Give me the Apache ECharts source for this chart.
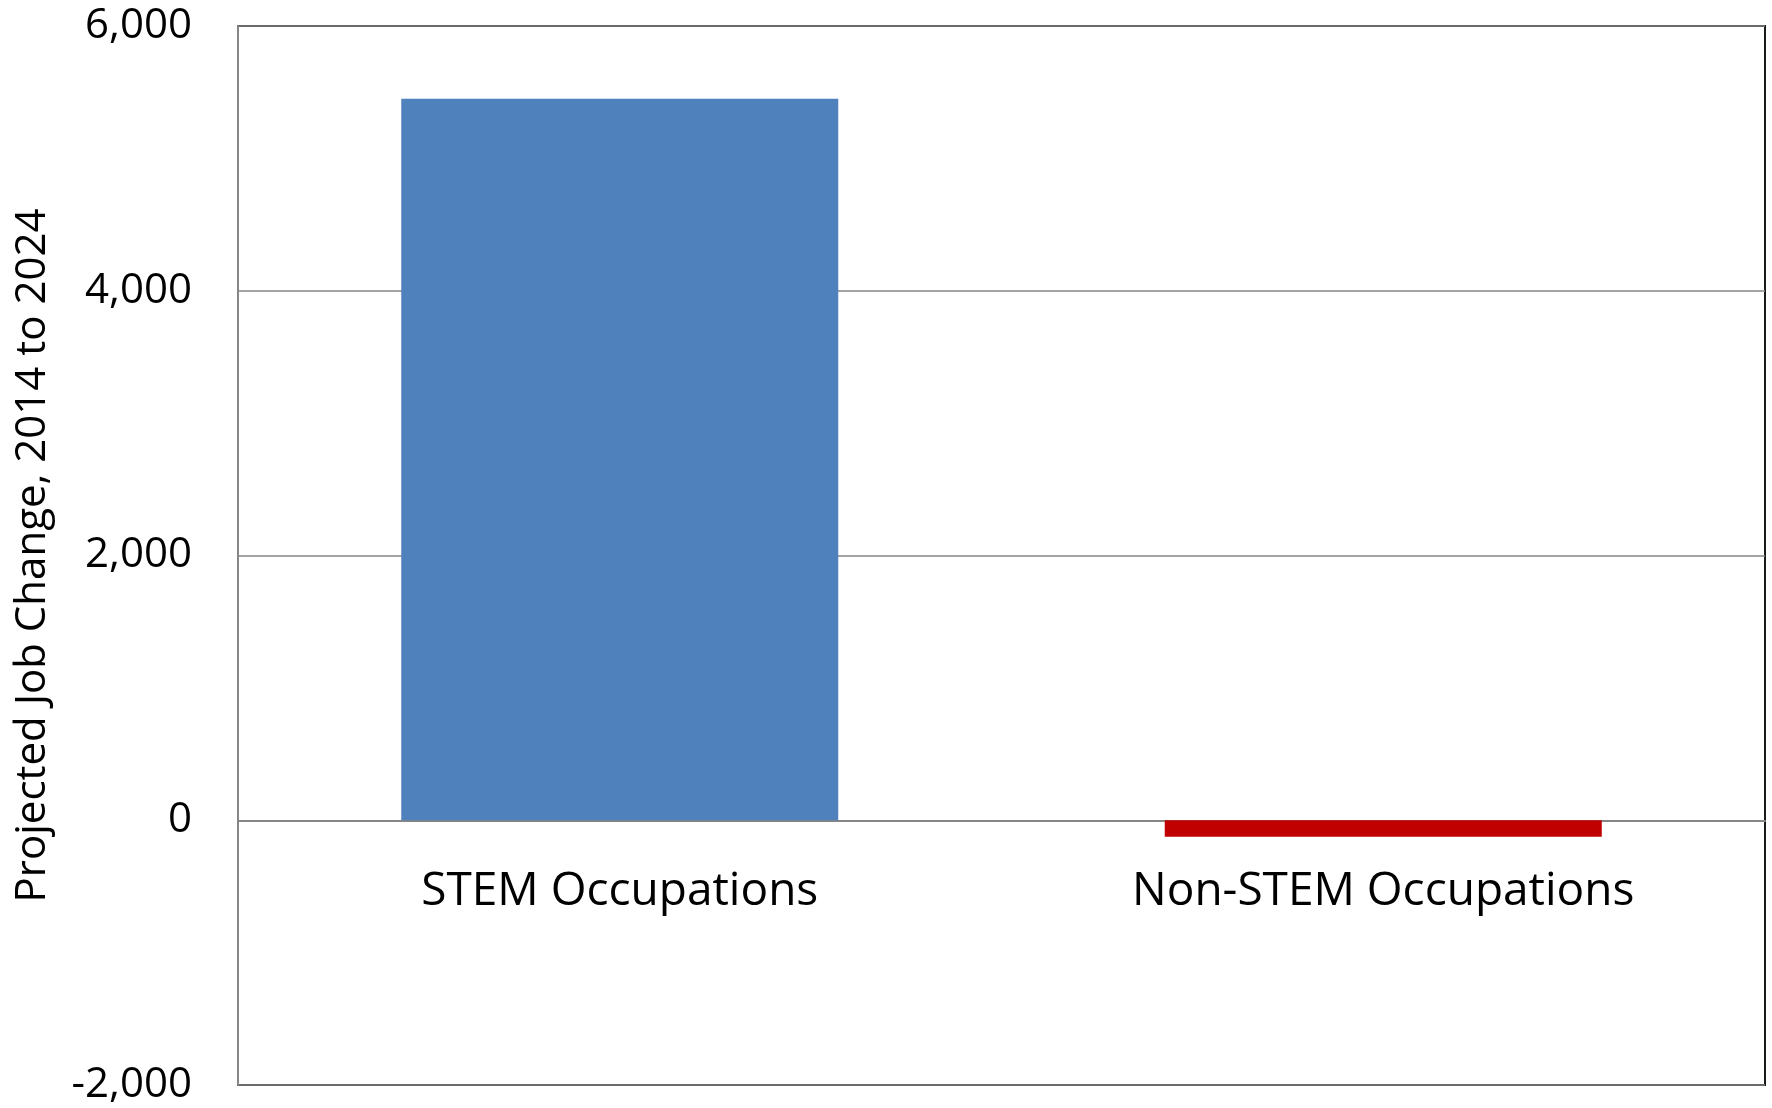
<!DOCTYPE html>
<html>
<head>
<meta charset="utf-8">
<script src="https://cdn.jsdelivr.net/npm/echarts@6/dist/echarts.min.js"></script>
<style>
  html, body { margin: 0; padding: 0; background: #ffffff; }
  #chart { width: 1772px; height: 1108px; }
</style>
</head>
<body>
<div id="chart"></div>
<script>
const categories = ['STEM Occupations', 'Non-STEM Occupations'];
const jobChange = [5450, -125];
const yTicks = { min: -2000, max: 6000, step: 2000 };
const axisTitle = 'Projected Job Change, 2014 to 2024';

const barColors = ['#4F81BD', '#C00000'];
const FONT = 'Open Sans';
const GRID_TOP = 26, GRID_BOTTOM = 23, H = 1108;
const plotH = H - GRID_TOP - GRID_BOTTOM;
// distance from plot bottom up to the zero value, through the axis range
const zeroOffset = plotH * (0 - yTicks.min) / (yTicks.max - yTicks.min);

const chart = echarts.init(document.getElementById('chart'), null, { renderer: 'canvas' });
chart.setOption({
  backgroundColor: '#ffffff',
  animation: false,
  grid: {
    left: 238, right: 7, top: GRID_TOP, bottom: GRID_BOTTOM,
    outerBoundsMode: 'none', containLabel: false,
    show: true, borderColor: '#1a1a1a', borderWidth: 2, backgroundColor: 'transparent'
  },
  xAxis: {
    type: 'category',
    data: categories,
    offset: -zeroOffset,
    axisLine: { show: true, onZero: false, lineStyle: { color: '#868686', width: 2 } },
    axisTick: { show: false },
    axisLabel: { color: '#000', fontFamily: FONT, fontSize: 46, margin: 49 },
    splitLine: { show: false }
  },
  yAxis: {
    type: 'value',
    min: yTicks.min, max: yTicks.max, interval: yTicks.step,
    name: axisTitle,
    nameLocation: 'middle',
    nameRotate: 90,
    nameGap: 184,
    nameTextStyle: { color: '#000', fontFamily: FONT, fontSize: 42 },
    axisLine: { show: true, lineStyle: { color: '#868686', width: 2 } },
    axisTick: { show: false },
    axisLabel: {
      color: '#000', fontFamily: FONT, fontSize: 42, margin: 46,
      formatter: v => v.toLocaleString('en-US')
    },
    splitLine: { show: true, lineStyle: { color: '#868686', width: 1.5 } }
  },
  series: [{
    type: 'bar',
    data: jobChange.map((v, i) => ({ value: v, itemStyle: { color: barColors[i] } })),
    barWidth: 437
  }]
});
</script>
</body>
</html>
